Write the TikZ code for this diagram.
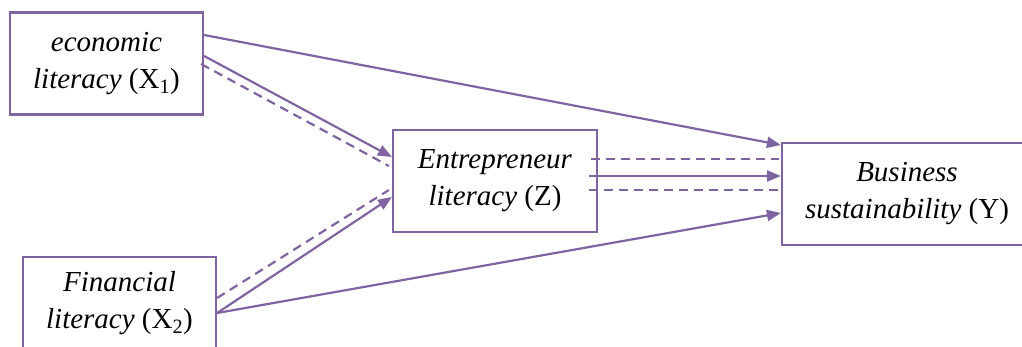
\documentclass[tikz,border=0pt]{standalone}
\usepackage{fontspec}
\setmainfont{Liberation Serif}
\usetikzlibrary{arrows.meta}
\definecolor{vio}{HTML}{8064A2}

\begin{document}
\begin{tikzpicture}[x=1pt, y=-1pt, line width=2.2pt,
  box/.style={draw=vio, inner sep=0pt, align=center, font=\fontsize{29}{37}\selectfont},
  link/.style={draw=vio, -{Triangle[length=14pt, width=11pt]}},
  dlink/.style={draw=vio, dash pattern=on 9pt off 6pt}]
  \useasboundingbox (0,0) rectangle (1022,347);
  \node[box, minimum width=193pt, minimum height=102pt] (x1) at (106.5,63.5) {\textit{economic}\\\textit{literacy} (X\textsubscript{1})};
  \node[box, minimum width=193pt, minimum height=92pt] (x2) at (119.5,303) {\textit{Financial}\\\textit{literacy} (X\textsubscript{2})};
  \node[box, minimum width=204pt, minimum height=102pt] (z) at (495,181) {\textit{Entrepreneur}\\\textit{literacy} (Z)};
  \node[box, minimum width=250pt, minimum height=102pt] (y) at (907,194) {\textit{Business}\\\textit{sustainability} (Y)};
    \draw[link] ([yshift=28.5pt]x1.east) -- ([yshift=49pt]y.west);
    \draw[link] ([yshift=7.5pt]x1.east) -- ([yshift=24pt]z.west);
    \draw[dlink] ([xshift=-3pt, yshift=-0.5pt]x1.east) -- ([xshift=-3pt, yshift=15pt]z.west);
    \draw[dlink] ([yshift=5pt]x2.east) -- ([xshift=-3pt, yshift=-9pt]z.west);
    \draw[link] ([yshift=-10pt]x2.east) -- ([yshift=-16pt]z.west);
    \draw[link] ([yshift=-10pt]x2.east) -- ([yshift=-19pt]y.west);
    \draw[dlink] ([xshift=-7pt, yshift=22pt]z.east) -- ([xshift=-2pt, yshift=35pt]y.west);
    \draw[link] ([xshift=-9pt, yshift=5pt]z.east) -- ([yshift=18pt]y.west);
    \draw[dlink] ([xshift=-9pt, yshift=-9pt]z.east) -- ([xshift=-2pt, yshift=4pt]y.west);
\end{tikzpicture}
\end{document}
